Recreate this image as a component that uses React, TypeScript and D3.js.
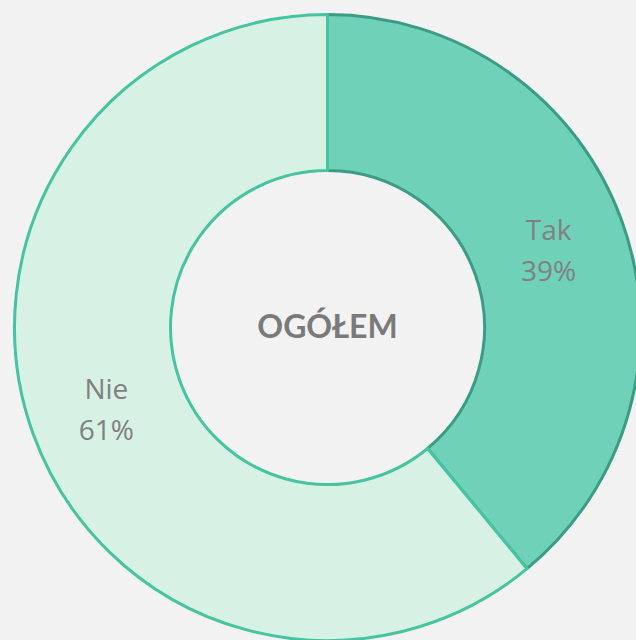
import React from "react";
import * as d3 from "d3";

// data
const categories = ["Tak", "Nie"];
const shares = [39, 61];
const fills = ["#70d1b9", "#d7f2e4"];
const strokes = ["#3a9c84", "#46c3a0"];
const centerLabel = "OGÓŁEM";

const width = 636;
const height = 640;
const cx = 327.5;
const cy = 327.5;
const outerR = 313;
const innerR = 157;

export default function App() {
  const data = categories.map((c, i) => ({ name: c, value: shares[i], i }));
  const pie = d3.pie<any>().value((d) => d.value).sort(null);
  const arcs = pie(data);
  const arc = d3.arc<any>().innerRadius(innerR).outerRadius(outerR);

  return (
    <svg
      width={width}
      height={height}
      style={{ position: "absolute", left: 0, top: 0, background: "#f2f2f2" }}
    >
      <rect width={width} height={height} fill="#f2f2f2" />
      <g transform={`translate(${cx},${cy})`}>
        {arcs.map((a) => (
          <path
            key={a.data.name}
            d={arc(a) || ""}
            fill={fills[a.data.i]}
            stroke={strokes[a.data.i]}
            strokeWidth={3}
            strokeLinejoin="round"
          />
        ))}
        {arcs.map((a) => {
          const [x, y] = arc.centroid(a);
          return (
            <text
              key={"l" + a.data.name}
              x={x}
              y={y}
              textAnchor="middle"
              fill="#808080"
              fontFamily="'Open Sans', Lato, sans-serif"
              fontSize={28}
            >
              <tspan x={x} dy="-0.3em">{a.data.name}</tspan>
              <tspan x={x} dy="1.47em">{a.data.value + "%"}</tspan>
            </text>
          );
        })}
        <text
          x={0}
          y={10}
          textAnchor="middle"
          fill="#7a7a7a"
          fontFamily="Lato, 'Open Sans', sans-serif"
          fontWeight="bold"
          fontSize={32}
        >
          {centerLabel}
        </text>
      </g>
    </svg>
  );
}
